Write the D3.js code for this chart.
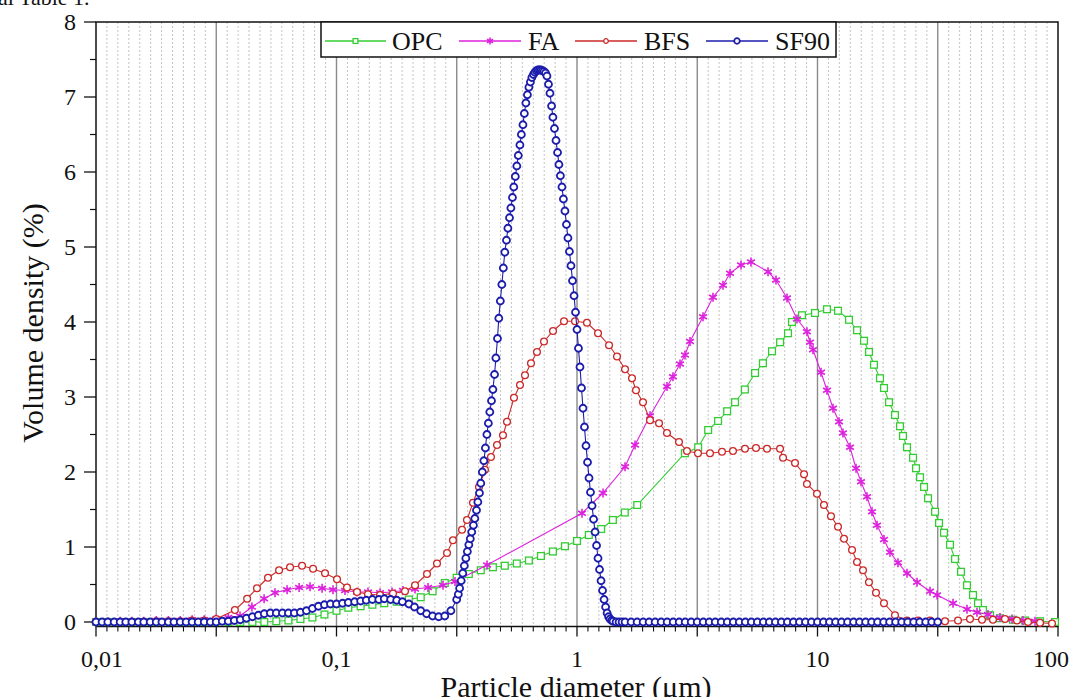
<!DOCTYPE html>
<html><head><meta charset="utf-8">
<script src="https://cdn.jsdelivr.net/npm/d3@7"></script>
<style>
html,body{margin:0;padding:0;background:#fff;overflow:hidden;}
svg{display:block;font-family:"Liberation Serif","Times New Roman",serif;}
</style></head>
<body><svg id="c" width="1073" height="697"></svg>
<script>
// ---------- data (particle diameter in µm, volume density in %) ----------
const xTickValues = [0.01, 0.1, 1, 10, 100];
const xTickLabels = ["0,01", "0,1", "1", "10", "100"];
const yTickValues = [0, 1, 2, 3, 4, 5, 6, 7, 8];
const seriesNames = ["OPC", "FA", "BFS", "SF90"];

const opcSize = [0.0100,0.0112,0.0126,0.0141,0.0158,0.0178,0.0200,0.0224,0.0251,0.0282,0.0316,0.0355,0.0398,0.0447,0.0501,0.0562,0.0631,0.0708,0.0794,0.0891,
  0.100,0.112,0.126,0.141,0.158,0.178,0.200,0.224,0.251,0.282,0.316,0.355,0.398,0.447,0.501,0.562,0.631,0.708,0.794,0.891,
  1.00,1.12,1.26,1.41,1.58,1.78,
  2.81,3.19,3.51,3.86,4.21,4.54,4.99,5.50,5.93,6.47,6.99,7.54,7.83,8.62,9.76,10.95,12.17,
  13.52,14.60,15.61,16.37,17.17,18.19,18.90,19.83,21.00,22.03,22.67,23.56,24.96,25.68,26.69,27.73,28.81,
  30.81,32.01,33.57,35.56,37.30,39.51,41.84,44.32,46.49,48.76,52.15,57.39,65.01,72.92,84.20,97.2];
const opcVol = [0,0,0,0,0,0,0,0,0,0,0,0,0,0,0,0.01,0.02,0.04,0.06,0.10,
  0.15,0.19,0.21,0.23,0.25,0.27,0.30,0.33,0.41,0.52,0.59,0.64,0.69,0.73,0.75,0.78,0.82,0.88,0.94,1.01,
  1.08,1.16,1.24,1.36,1.46,1.56,
  2.25,2.33,2.56,2.68,2.81,2.93,3.10,3.32,3.45,3.61,3.73,3.85,4.00,4.09,4.12,4.17,4.15,
  4.03,3.89,3.75,3.60,3.43,3.25,3.12,2.93,2.76,2.61,2.48,2.33,2.19,2.05,1.93,1.80,1.65,
  1.47,1.32,1.19,1.03,0.84,0.67,0.49,0.36,0.25,0.16,0.09,0.05,0.03,0.02,0.01,0.00];

const faSize = [0.0100,0.0112,0.0126,0.0141,0.0158,0.0178,0.0200,0.0224,0.0251,0.0282,0.0316,0.0355,
  0.0397,0.0445,0.0500,0.0555,0.0623,0.0699,0.0776,0.0871,0.0967,
  0.1085,0.1217,0.1352,0.1517,0.1702,0.1890,0.2121,0.2402,0.2772,0.3110,
  0.4226,1.049,1.283,1.584,1.743,2.012,2.367,2.506,2.681,2.812,2.951,
  3.342,3.677,4.047,4.327,4.808,5.290,6.226,6.721,7.468,8.217,
  9.04,9.307,9.579,10.34,10.95,11.60,12.29,12.76,13.65,14.46,
  15.17,16.06,16.85,17.68,18.90,20.02,21.61,23.56,25.93,29.37,
  31.41,36.6,41.84,46.04,51.16,57.39,64.38,71.52,80.25];
const faVol = [0.00,0.00,0.01,0.01,0.01,0.02,0.02,0.02,0.03,0.03,0.04,0.06,
  0.08,0.20,0.31,0.39,0.43,0.46,0.47,0.45,0.43,
  0.42,0.40,0.40,0.39,0.40,0.42,0.44,0.46,0.49,0.54,
  0.76,1.45,1.72,2.07,2.36,2.75,3.14,3.27,3.44,3.56,3.74,
  4.07,4.33,4.49,4.65,4.76,4.80,4.67,4.56,4.32,4.04,
  3.87,3.73,3.63,3.33,3.09,2.85,2.67,2.52,2.33,2.05,
  1.87,1.67,1.47,1.29,1.10,0.93,0.79,0.65,0.53,0.41,
  0.36,0.25,0.17,0.13,0.10,0.06,0.04,0.02,0.01];

const bfsSize = [0.0100,0.0112,0.0126,0.0141,0.0158,0.0178,0.0200,0.0224,0.0251,0.0282,0.0316,
  0.0378,0.0425,0.0467,0.0519,0.0577,0.0641,0.0719,0.0799,0.0896,
  0.1005,0.1106,0.1217,0.1352,0.1517,0.1718,0.1927,0.2121,0.2379,0.2618,0.2881,
  0.3050,0.3326,0.3487,0.3694,0.3913,0.4144,0.4388,0.4650,0.4924,0.5117,
  0.5470,0.5794,0.6078,0.6437,0.6818,0.7292,0.7948,0.8831,0.9810,
  1.100,1.223,1.359,1.467,1.584,1.693,1.759,1.881,2.012,2.193,
  2.367,2.655,2.866,3.185,3.573,4.008,4.452,4.994,5.549,6.166,
  6.986,7.19,8.063,8.79,9.04,9.95,10.64,11.38,12.17,12.89,
  13.92,14.60,15.46,16.37,17.51,18.90,21.00,23.56,26.18,29.37,
  33.89,38.39,43.06,48.31,53.65,60.20,67.52,75.05,84.20,94.44];
const bfsVol = [0,0,0,0,0,0.01,0.01,0.01,0.02,0.02,0.04,
  0.16,0.31,0.45,0.59,0.69,0.73,0.75,0.71,0.65,
  0.57,0.46,0.40,0.37,0.36,0.38,0.41,0.49,0.64,0.78,0.92,
  1.09,1.23,1.36,1.59,1.80,2.03,2.20,2.36,2.49,2.67,
  2.99,3.16,3.29,3.45,3.60,3.74,3.88,4.01,4.01,
  3.99,3.85,3.69,3.54,3.37,3.25,3.09,2.93,2.69,2.65,
  2.52,2.40,2.28,2.25,2.25,2.27,2.28,2.31,2.32,2.31,
  2.31,2.19,2.12,1.97,1.84,1.71,1.56,1.41,1.27,1.11,
  0.96,0.80,0.69,0.53,0.39,0.25,0.09,0.02,0.02,0.02,
  0.01,0.02,0.04,0.03,0.03,0.04,0.02,0.00,-0.01,-0.02];

const sf90Size = [0.0100,0.0106,0.0112,0.0119,0.0126,0.0133,0.0141,0.0150,0.0158,0.0168,
  0.0178,0.0188,0.0200,0.0211,0.0224,0.0237,0.0251,0.0266,0.0282,0.0299,
  0.0316,0.0335,0.0355,0.0376,0.0398,0.0422,0.0447,0.0473,0.0501,0.0531,
  0.0562,0.0596,0.0631,0.0668,0.0708,0.0750,0.0794,0.0841,0.0891,0.0944,
  0.100,0.106,0.112,0.119,0.126,0.133,0.141,0.150,0.158,0.168,
  0.178,0.188,0.200,0.211,0.224,0.237,0.251,0.266,0.282,0.299,
  0.316,0.321,0.325,0.330,0.335,0.340,0.345,0.350,0.355,0.360,
  0.365,0.371,0.376,0.382,0.387,0.393,0.398,0.404,0.410,0.416,
  0.422,0.428,0.434,0.441,0.447,0.454,0.460,0.467,0.473,0.480,
  0.487,0.494,0.501,0.509,0.516,0.524,0.531,0.539,0.546,0.554,
  0.562,0.570,0.579,0.587,0.596,0.604,0.613,0.622,0.631,0.640,
  0.649,0.659,0.668,0.678,0.688,0.698,0.708,0.718,0.729,0.740,
  0.750,0.761,0.772,0.784,0.794,0.806,0.818,0.830,0.841,0.853,
  0.866,0.878,0.891,0.904,0.917,0.930,0.944,0.958,0.972,0.986,
  1.000,1.014,1.029,1.044,1.059,1.074,1.090,1.106,1.122,1.138,
  1.155,1.172,1.189,1.206,1.223,1.241,1.259,1.277,1.296,1.315,
  1.334,1.353,1.372,1.393,1.413,1.454,1.496,1.540,1.585,1.679,
  1.778,1.884,1.995,2.113,2.239,2.371,2.512,2.661,2.818,2.985,
  3.162,3.350,3.548,3.758,3.981,4.217,4.467,4.732,5.012,5.309,
  5.623,5.957,6.310,6.683,7.079,7.499,7.943,8.414,8.913,9.441,
  10.00,10.59,11.22,11.89,12.59,13.34,14.13,14.96,15.85,16.79,
  17.78,18.84,19.95,21.13,22.39,23.71,25.12,26.61,28.18,29.85,
  31.62];
const sf90Vol = [0,0,0,0,0,0,0,0,0,0,
  0,0,0,0,0,0,0,0,0,0,
  0.00,0.01,0.01,0.02,0.03,0.05,0.07,0.09,0.11,0.12,
  0.12,0.12,0.12,0.12,0.13,0.15,0.18,0.21,0.23,0.24,
  0.24,0.25,0.26,0.27,0.28,0.29,0.30,0.30,0.31,0.30,
  0.29,0.27,0.24,0.20,0.15,0.11,0.08,0.07,0.08,0.15,
  0.30,0.37,0.45,0.55,0.65,0.75,0.85,0.94,1.03,1.11,
  1.20,1.29,1.38,1.49,1.60,1.72,1.85,2.00,2.15,2.32,
  2.50,2.65,2.80,2.95,3.10,3.30,3.52,3.78,4.05,4.28,
  4.50,4.72,4.93,5.09,5.25,5.39,5.52,5.66,5.80,5.94,
  6.08,6.22,6.36,6.50,6.63,6.78,6.92,7.03,7.13,7.20,
  7.26,7.30,7.33,7.35,7.36,7.36,7.36,7.35,7.34,7.32,
  7.28,7.17,7.05,6.88,6.73,6.58,6.42,6.26,6.10,5.95,
  5.80,5.64,5.48,5.30,5.12,4.94,4.75,4.55,4.35,4.13,
  3.90,3.65,3.40,3.12,2.85,2.60,2.35,2.13,1.92,1.73,
  1.55,1.37,1.20,1.02,0.85,0.70,0.55,0.42,0.30,0.20,
  0.12,0.07,0.04,0.02,0.01,0,0,0,0,0,
  0,0,0,0,0,0,0,0,0,0,
  0,0,0,0,0,0,0,0,0,0,
  0,0,0,0,0,0,0,0,0,0,
  0,0,0,0,0,0,0,0,0,0,
  0,0,0,0,0,0,0,0,0,0,
  0];

// ---------- layout ----------
const svg = d3.select("#c");
const L = 96, R = 1058, T = 22, B = 626.5;
const x = d3.scaleLog().domain([0.01, 100]).range([L, R]);
const y = d3.scaleLinear().domain([-0.06, 8]).range([B, T]);

// top clipped caption remnant
svg.append("text").attr("x", -2).attr("y", 5).attr("font-size", 22).attr("fill", "#111").text("al Table 1.");

// minor dotted grid + major grid (half decades)
const majors = d3.range(-2, 2.01, 0.5).map(v => Math.pow(10, v));
const minors = [];
for (let h = -2; h < 2; h += 0.5) for (let k = 1; k <= 10; k++) minors.push(Math.pow(10, h + k * 0.5 / 11));
const g = svg.append("g");
g.selectAll(".mn").data(minors).join("line")
  .attr("x1", d => x(d)).attr("x2", d => x(d)).attr("y1", T).attr("y2", B)
  .attr("stroke", "#c4c4c4").attr("stroke-width", 1).attr("stroke-dasharray", "2,2");
g.selectAll(".mj").data(majors.slice(1, -1)).join("line")
  .attr("x1", d => x(d)).attr("x2", d => x(d)).attr("y1", T).attr("y2", B)
  .attr("stroke", "#8a8a8a").attr("stroke-width", 1.4);

// axes ticks
const xt = svg.append("g");
xt.selectAll(".a").data(majors).join("line")
  .attr("x1", d => x(d)).attr("x2", d => x(d)).attr("y1", B).attr("y2", B + 10)
  .attr("stroke", "#111").attr("stroke-width", 1.3);
xt.selectAll(".b").data(minors).join("line")
  .attr("x1", d => x(d)).attr("x2", d => x(d)).attr("y1", B).attr("y2", B + 5)
  .attr("stroke", "#111").attr("stroke-width", 1.1);
xt.selectAll("text").data(xTickValues).join("text")
  .attr("x", (d, i) => i === 0 ? x(d) - 15 : (i === xTickValues.length - 1 ? x(d) + 11 : x(d)))
  .attr("y", 667).attr("text-anchor", (d, i) => i === 0 ? "start" : (i === xTickValues.length - 1 ? "end" : "middle"))
  .attr("font-size", 24).attr("fill", "#111")
  .text((d, i) => xTickLabels[i]);

const yt = svg.append("g");
yt.selectAll(".a").data(yTickValues).join("line")
  .attr("x1", L - 12).attr("x2", L).attr("y1", d => y(d)).attr("y2", d => y(d))
  .attr("stroke", "#111").attr("stroke-width", 1.3);
yt.selectAll(".b").data(d3.range(0.5, 8, 1)).join("line")
  .attr("x1", L - 6).attr("x2", L).attr("y1", d => y(d)).attr("y2", d => y(d))
  .attr("stroke", "#111").attr("stroke-width", 1.2);
yt.selectAll("text").data(yTickValues).join("text")
  .attr("x", 76).attr("y", d => y(d) + 8).attr("text-anchor", "end")
  .attr("font-size", 24).attr("fill", "#111").text(d => d);

// frame
svg.append("rect").attr("x", L).attr("y", T).attr("width", R - L).attr("height", B - T)
  .attr("fill", "none").attr("stroke", "#111").attr("stroke-width", 1.5);

// axis titles
svg.append("text").attr("x", 576).attr("y", 697).attr("text-anchor", "middle")
  .attr("font-size", 30).attr("fill", "#111").text("Particle diameter (μm)");
svg.append("text").attr("transform", "translate(43,323) rotate(-90)").attr("text-anchor", "middle")
  .attr("font-size", 30).attr("fill", "#111").text("Volume density (%)");

// ---------- series ----------
const colors = {OPC: "#33cc33", FA: "#dd22dd", BFS: "#cc2a2a", SF90: "#1c1cac"};
function asterisk(s) {
  const a = s * 0.866, b = s * 0.5;
  return `M0,${-s}L0,${s}M${-a},${-b}L${a},${b}M${-a},${b}L${a},${-b}`;
}
function drawMarker(sel, name, big) {
  const c = colors[name];
  if (name === "OPC") {
    const h = big ? 3.4 : 2.4;
    sel.append("rect").attr("x", -h).attr("y", -h).attr("width", 2 * h).attr("height", 2 * h)
      .attr("fill", "#fff").attr("stroke", c).attr("stroke-width", 1.3);
  } else if (name === "FA") {
    sel.append("path").attr("d", asterisk(big ? 4.5 : 3.5)).attr("stroke", c).attr("stroke-width", 1.6).attr("fill", "none");
  } else if (name === "BFS") {
    sel.append("circle").attr("r", big ? 3.4 : 2.3).attr("fill", "#fff").attr("stroke", c).attr("stroke-width", 1.3);
  } else {
    sel.append("circle").attr("r", big ? 3.5 : 2.8).attr("fill", "#fff").attr("stroke", c).attr("stroke-width", 1.8);
  }
}
const series = [
  {name: "OPC", xs: opcSize, ys: opcVol},
  {name: "FA", xs: faSize, ys: faVol},
  {name: "BFS", xs: bfsSize, ys: bfsVol},
  {name: "SF90", xs: sf90Size, ys: sf90Vol}
];
const line = d3.line().x(d => x(d[0])).y(d => y(d[1]));
const plot = svg.append("g");
series.forEach(s => {
  const n = Math.min(s.xs.length, s.ys.length);
  const pts = d3.range(n).map(i => [s.xs[i], s.ys[i]]);
  const sg = plot.append("g");
  sg.append("path").attr("d", line(pts)).attr("fill", "none").attr("stroke", colors[s.name]).attr("stroke-width", 1.1);
  sg.selectAll("g").data(pts).join("g")
    .attr("transform", d => `translate(${x(d[0])},${y(d[1])})`)
    .each(function () { drawMarker(d3.select(this), s.name, true); });
});

// ---------- legend ----------
const lg = svg.append("g");
lg.append("rect").attr("x", 321).attr("y", T).attr("width", 515).attr("height", 35)
  .attr("fill", "#fff").attr("stroke", "#111").attr("stroke-width", 1.5);
const legPos = [{x0: 325, x1: 386, tx: 392}, {x0: 459, x1: 521, tx: 528}, {x0: 575, x1: 637, tx: 644}, {x0: 706, x1: 768, tx: 775}];
seriesNames.forEach((nm, i) => {
  const p = legPos[i];
  lg.append("line").attr("x1", p.x0).attr("x2", p.x1).attr("y1", 41).attr("y2", 41)
    .attr("stroke", colors[nm]).attr("stroke-width", 1.3);
  const m = lg.append("g").attr("transform", `translate(${(p.x0 + p.x1) / 2},41)`);
  drawMarker(m, nm, false);
  lg.append("text").attr("x", p.tx).attr("y", 50).attr("font-size", 26).attr("fill", "#111").text(nm);
});
</script></body></html>
